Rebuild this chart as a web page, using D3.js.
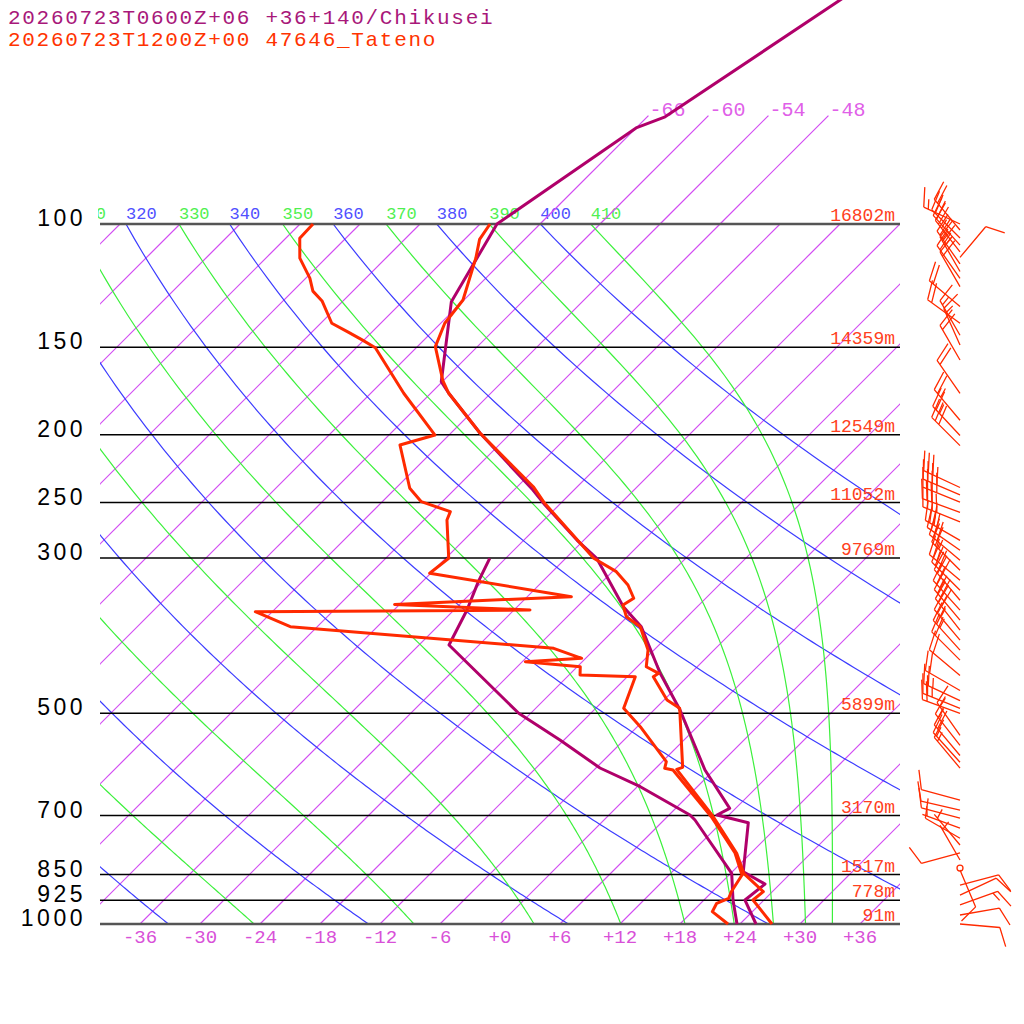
<!DOCTYPE html>
<html>
<head>
<meta charset="utf-8">
<script src="https://cdn.jsdelivr.net/npm/d3@7"></script>
<style>
  body { margin: 0; background: #fff; }
  svg { display: block; }
</style>
</head>
<body>
<div id="chart"></div>
<script>
const width = 1024, height = 1024;

// Chikusei model point (pressure hPa, temperature C)
const chikuseiTemp = [
  [40, -55.7], [47.9, -58.4], [70.3, -64.2], [72.9, -66.0], [100, -70.3], [129.1, -67.1],
  [168, -60.1], [174.5, -58.2], [198.9, -51.1], [239.9, -40.1], [252, -37.4], [282.8, -30.7],
  [300.3, -26.9], [352.1, -19.4], [376.1, -15.6], [437.9, -9.1], [494.6, -3.4], [602.6, 5.1],
  [683.5, 11.4], [698.7, 10.8], [716.6, 14.7], [842, 19.1], [876.7, 22.5], [924.1, 22.1], [1000, 25.6]
];
const chikuseiDew = [
  [300.3, -37.6], [324.3, -36.4], [356, -34.7], [399.4, -33.0], [500, -19.2], [546, -12.4],
  [598.6, -5.6], [636.6, 0.3], [698.7, 8.1], [710.3, 9.1], [846.4, 18.1], [924.1, 20.9], [1000, 23.7]
];

// Tateno 47646 radiosonde
const tatenoTemp = [
  [100, -71.0], [105.2, -70.5], [111.9, -69.0], [128.4, -66.1], [138.6, -65.6], [149.7, -64.2],
  [167.2, -60.1], [174.5, -58.2], [198.9, -51.1], [208, -48.4], [237.3, -40.4], [250.6, -37.6],
  [300.3, -27.2], [313.8, -23.6], [327.9, -21.1], [342.5, -19.2], [350.2, -19.6], [363.9, -18.1],
  [376.1, -15.7], [406, -12.6], [429, -11.1], [438.4, -9.2], [443.3, -9.4], [478.6, -5.7],
  [491.9, -3.6], [597.3, 2.6], [601.2, 2.2], [702.6, 10.6], [792.5, 16.6], [846.4, 19.3],
  [899.2, 23.1], [924.1, 22.9], [1000, 27.2]
];
const tatenoDew = [
  [100, -88.7], [104.8, -88.6], [111.9, -86.6], [119.5, -83.6], [124.7, -82.0], [128.8, -80.1],
  [138.6, -76.9], [142.8, -74.3], [146.4, -72.2], [150.2, -70.1], [174.5, -62.7], [200.2, -55.4],
  [206.9, -57.9], [238.5, -52.6], [249.3, -50.1], [257.6, -46.2], [264.8, -45.7], [300.3, -41.7],
  [315.5, -42.1], [340.7, -25.6], [349.5, -42.5], [356, -28.4], [358, -55.7], [376.1, -50.7],
  [403.8, -22.2], [417.3, -18.4], [421.9, -23.7], [429, -17.7], [440.8, -16.9], [443.3, -11.2],
  [491.9, -9.2], [522.6, -5.7], [586.3, 0.4], [599.2, 0.9], [602.6, 1.9], [702.6, 10.4],
  [791.7, 16.4], [851.1, 19.3], [899.2, 19.9], [919, 20.3], [934.2, 19.6], [960.3, 20.0], [1000, 22.8]
];

// Tateno winds: pressure, direction (deg), speed (kt)
const tatenoWindP = [100, 102, 104.7, 107.2, 109.6, 111.6, 114, 116.9, 119.6, 122.9,
  131.2, 138.6, 144.2, 148.9, 156.4, 174.5, 190.7, 200.5, 207.3,
  237.9, 243.7, 249.6, 258.2, 266.4,
  283.1, 292.5, 302.3, 312.4, 322.8, 333.6, 344.7, 356.2, 368.1, 380.4, 393.1, 406.2, 419.8, 441.4, 463.9, 479.6, 491.9, 500,
  537.6, 555.7, 574.5, 587.3, 598.7,
  665.2, 687.6, 705.9, 729.5, 754.1, 771.1, 791.5, 810.2, 832,
  837.5, 880.1, 909.2, 939.3, 970.8, 1000];
const tatenoWindDir = [295, 320, 315, 318, 322, 40, 325, 330, 325, 330,
  310, 306, 330, 336, 330, 325, 320, 317, 315,
  295, 293, 292, 290, 292,
  300, 305, 310, 315, 310, 315, 320, 318, 320, 322, 320, 318, 315, 310, 300, 295, 292, 290,
  325, 322, 320, 318, 320,
  285, 283, 285, 290, 300, 320, 255, 330, 0,
  157, 75, 65, 70, 80, 95];
const tatenoWindSpd = [15, 20, 20, 20, 25, 10, 25, 25, 20, 20,
  20, 20, 15, 15, 20, 20, 25, 25, 30,
  35, 35, 40, 35, 35,
  30, 30, 30, 25, 25, 30, 30, 25, 30, 30, 25, 25, 20, 20, 20, 25, 25, 20,
  15, 15, 20, 15, 15,
  10, 10, 10, 5, 10, 5, 10, 5, 0,
  10, 10, 10, 15, 10, 10];

const isobars = [100, 150, 200, 250, 300, 500, 700, 850, 925, 1000];
const isobarHeights = ["16802m", "14359m", "12549m", "11052m", "9769m", "5899m", "3170m", "1517m", "778m", "91m"];
const tempTicks = d3.range(-36, 37, 6);
const isotherms = d3.range(-108, 37, 6);
const upperIsotherms = [-66, -60, -54, -48];
const dryThetas = d3.range(240, 401, 20);
const moistThetaEs = d3.range(250, 411, 20);
const headerLines = ["20260723T0600Z+06 +36+140/Chikusei", "20260723T1200Z+00 47646_Tateno"];

const colChikusei = "#b0006a", colTateno = "#ff2a00";
const colIso = "#d24cf2", colDry = "#3c3cff", colMoist = "#3cf03c";
const mono = "'Liberation Mono', 'DejaVu Sans Mono', monospace";

const svg = d3.select("#chart").append("svg")
  .attr("width", width).attr("height", height);

// log pressure axis and skewed temperature axis
const y = d3.scaleLog().domain([1000, 100]).range([924, 224]);
const xT = d3.scaleLinear().domain([-40, 40]).range([100, 900]);
const y0 = y(1000);
const sx = (t, p) => xT(t) + (y0 - y(p));

const defs = svg.append("defs");
defs.append("clipPath").attr("id", "plot")
  .append("rect").attr("x", 100).attr("y", 224).attr("width", 800).attr("height", 700);
defs.append("clipPath").attr("id", "lab")
  .append("rect").attr("x", 98).attr("y", 190).attr("width", 802).attr("height", 34);

const grid = svg.append("g").attr("class", "grid").attr("clip-path", "url(#plot)");
const line = d3.line().x(d => sx(d[1], d[0])).y(d => y(d[0]));

// isotherms
grid.selectAll("line.isotherm").data(isotherms).join("line")
  .attr("class", "isotherm")
  .attr("x1", t => sx(t, 1000)).attr("y1", y(1000))
  .attr("x2", t => sx(t, 100)).attr("y2", y(100))
  .style("stroke", colIso).style("stroke-width", "1.2px");

// dry adiabats
const pLevels = d3.range(1000, 99, -5);
const dryLine = th => pLevels.map(p => [p, th * Math.pow(p / 1000, 0.2857) - 273.15]);
grid.selectAll("path.dry").data(dryThetas).join("path")
  .attr("class", "dry")
  .attr("d", th => line(dryLine(th)))
  .style("fill", "none").style("stroke", colDry).style("stroke-width", "1.2px");

// saturated pseudo-adiabats (Bolton theta-e)
function esat(tc) { return 6.112 * Math.exp(17.67 * tc / (tc + 243.5)); }
function thetaESat(tk, p) {
  const es = esat(tk - 273.15);
  if (es > 0.6 * p) return Infinity;
  const r = 0.622 * es / (p - es), rg = r * 1000;
  const th = tk * Math.pow(1000 / p, 0.2854 * (1 - 0.28 * r));
  return th * Math.exp((3.376 / tk - 0.00254) * rg * (1 + 0.81e-3 * rg));
}
function moistLine(the) {
  return pLevels.map(p => {
    let lo = 120, hi = 340;
    for (let i = 0; i < 50; i++) {
      const mid = (lo + hi) / 2;
      if (thetaESat(mid, p) > the) hi = mid; else lo = mid;
    }
    return [p, (lo + hi) / 2 - 273.15];
  });
}
grid.selectAll("path.moist").data(moistThetaEs).join("path")
  .attr("class", "moist")
  .attr("d", the => line(moistLine(the)))
  .style("fill", "none").style("stroke", colMoist).style("stroke-width", "1.2px");

// adiabat labels along 100 hPa (only those reaching the plot)
const labs = svg.append("g").attr("clip-path", "url(#lab)")
  .attr("font-family", mono).attr("font-size", 17);
dryThetas.forEach(th => {
  const x = sx(th * Math.pow(0.1, 0.2857) - 273.15, 100);
  if (x < 60) return;
  labs.append("text").attr("x", x).attr("y", 219).attr("fill", "#5050ff").text(th);
});
moistThetaEs.forEach(the => {
  const ml = moistLine(the);
  const x = sx(ml[ml.length - 1][1], 100);
  if (x < 60) return;
  labs.append("text").attr("x", x).attr("y", 219).attr("fill", "#50f050").text(the);
});

// isotherms above 100 hPa with labels
const fmtT = t => (t < 0 ? "-" : "+") + Math.abs(t);
upperIsotherms.forEach(t => {
  svg.append("line")
    .attr("x1", sx(t, 100)).attr("y1", y(100))
    .attr("x2", sx(t, 70)).attr("y2", y(70))
    .style("stroke", colIso).style("stroke-width", "1.2px");
  svg.append("text").attr("x", sx(t, 70) + 1).attr("y", y(70))
    .attr("font-family", mono).attr("font-size", 20).attr("fill", "#e060e8")
    .text(fmtT(t));
});

// isobars
svg.selectAll("line.isobar").data(isobars).join("line")
  .attr("class", "isobar")
  .attr("x1", 100).attr("x2", 900)
  .attr("y1", p => y(p)).attr("y2", p => y(p))
  .style("stroke", p => (p === 100 || p === 1000) ? "#555" : "#000")
  .style("stroke-width", p => (p === 100 || p === 1000) ? "2.5px" : "1.5px");

// pressure labels
svg.selectAll("text.plab").data(isobars).join("text")
  .attr("class", "plab")
  .attr("x", 86).attr("y", p => y(p) + 2)
  .attr("text-anchor", "end")
  .attr("font-family", "'Liberation Sans', Arial, sans-serif")
  .attr("font-size", 23).attr("letter-spacing", 3.5)
  .attr("fill", "#000").text(p => p);

// height labels
svg.selectAll("text.hlab").data(isobars).join("text")
  .attr("class", "hlab")
  .attr("x", 895).attr("y", p => y(p) - 3)
  .attr("text-anchor", "end")
  .attr("font-family", mono).attr("font-size", 18)
  .attr("fill", "#ff4020").text((p, i) => isobarHeights[i]);

// temperature ticks along bottom
svg.selectAll("text.tlab").data(tempTicks).join("text")
  .attr("class", "tlab")
  .attr("x", t => xT(t)).attr("y", 943)
  .attr("text-anchor", "middle")
  .attr("font-family", mono).attr("font-size", 19)
  .attr("fill", "#d850d8").text(fmtT);

// profiles
[[chikuseiDew, colChikusei], [chikuseiTemp, colChikusei], [tatenoDew, colTateno], [tatenoTemp, colTateno]]
  .forEach(([data, col]) => {
    svg.append("path").datum(data)
      .attr("d", line)
      .style("fill", "none").style("stroke", col)
      .style("stroke-width", "3px").style("stroke-linejoin", "round");
  });

// wind barbs
const barbs = svg.append("g").style("stroke", colTateno).style("stroke-width", "1.3px").style("fill", "none");
const rot = 68 * Math.PI / 180;
tatenoWindP.forEach((p, i) => {
  const x0 = 960, yb = y(p), dir = tatenoWindDir[i], spd = tatenoWindSpd[i];
  if (spd < 2.5) {
    barbs.append("circle").attr("cx", x0).attr("cy", yb).attr("r", 3);
    return;
  }
  const a = dir * Math.PI / 180, ux = Math.sin(a), uy = -Math.cos(a);
  const bx = ux * Math.cos(rot) - uy * Math.sin(rot), by = ux * Math.sin(rot) + uy * Math.cos(rot);
  const tx = x0 + 40 * ux, ty = yb + 40 * uy;
  let d = `M${x0},${yb}L${tx},${ty}`;
  let s = Math.round(spd / 5) * 5, pos = 0;
  while (s >= 10) {
    const px = tx - pos * ux, py = ty - pos * uy;
    d += `M${px},${py}l${20 * bx},${20 * by}`;
    s -= 10; pos += 5;
  }
  if (s >= 5) {
    if (pos === 0) pos = 5;
    const px = tx - pos * ux, py = ty - pos * uy;
    d += `M${px},${py}l${10 * bx},${10 * by}`;
  }
  barbs.append("path").attr("d", d);
});

// header
svg.selectAll("text.head").data(headerLines).join("text")
  .attr("class", "head")
  .attr("x", 8).attr("y", (d, i) => 24 + i * 22)
  .attr("font-family", mono).attr("font-size", 21).attr("letter-spacing", 1.7)
  .attr("fill", (d, i) => i === 0 ? "#a8187a" : "#ff3300")
  .text(d => d);
</script>
</body>
</html>
